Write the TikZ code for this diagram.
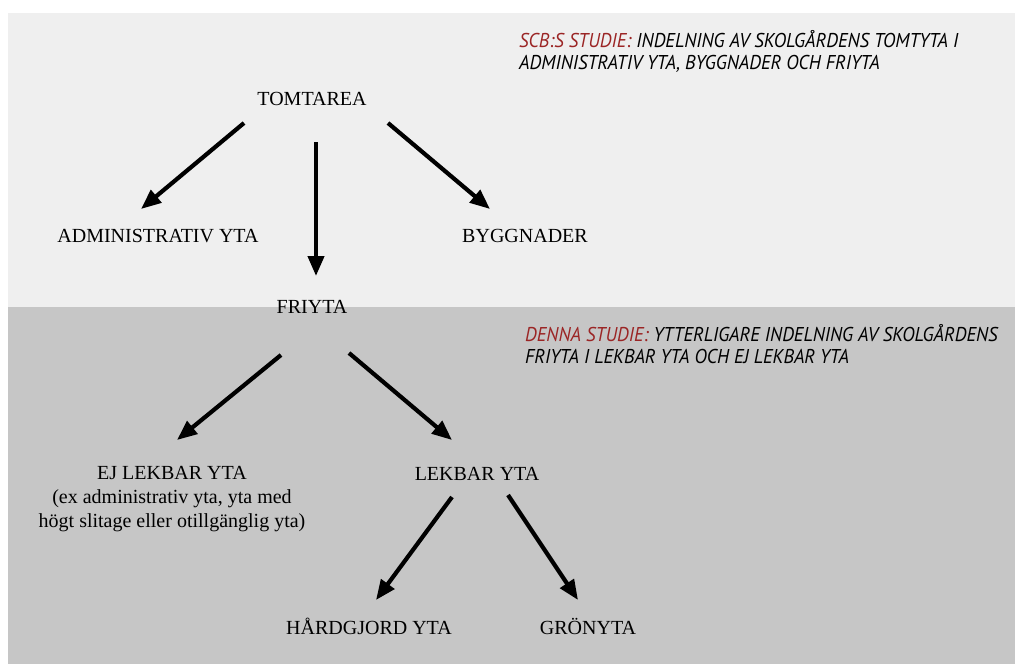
\documentclass[tikz,border=0pt]{standalone}
\usepackage{fontspec}
\setmainfont{Liberation Serif}
\newfontfamily\notefont[FakeStretch=0.94]{PT Sans}
\usetikzlibrary{arrows.meta}
\definecolor{bgtop}{HTML}{EFEFEF}
\definecolor{bgbot}{HTML}{C6C6C6}
\definecolor{notered}{HTML}{9B2525}
\begin{document}
\begin{tikzpicture}[x=1pt,y=-1pt,
  lbl/.style={font=\fontsize{20}{24}\selectfont, inner sep=0pt, anchor=base},
  note/.style={font=\notefont\itshape\fontsize{20}{22}\selectfont, inner sep=0pt, anchor=base west},
  arr/.style={line width=4.2pt, -{Triangle[length=20pt,width=16pt]}}]
\useasboundingbox (0,0) rectangle (1015,664);
\fill[bgtop] (8,13) rectangle (1015,307);
\fill[bgbot] (8,307) rectangle (1015,664);

\node[lbl] (tom) at (312,105) {TOMTAREA};
\node[lbl] (adm) at (158,242) {ADMINISTRATIV YTA};
\node[lbl] (byg) at (525,242) {BYGGNADER};
\node[lbl] (fri) at (312,313) {FRIYTA};
\node[lbl, anchor=north, align=center, font=\fontsize{20}{24}\selectfont] (ej) at (172,466) {EJ LEKBAR YTA\\(ex administrativ yta, yta med\\högt slitage eller otillgänglig yta)};
\node[lbl] (lek) at (477,480) {LEKBAR YTA};
\node[lbl] (hard) at (369,634) {HÅRDGJORD YTA};
\node[lbl] (gron) at (588,634) {GRÖNYTA};

\node[note] (n1a) at (519,47) {\textcolor{notered}{SCB:S STUDIE:} INDELNING AV SKOLGÅRDENS TOMTYTA I};
\node[note] (n1b) at (519,69) {ADMINISTRATIV YTA, BYGGNADER OCH FRIYTA};
\node[note] (n2a) at (525,341) {\textcolor{notered}{DENNA STUDIE:} YTTERLIGARE INDELNING AV SKOLGÅRDENS};
\node[note] (n2b) at (525,363) {FRIYTA I LEKBAR YTA OCH EJ LEKBAR YTA};

\draw[arr] ([shift={(-68,18)}]tom.base) -- ([shift={(-17,-33)}]adm.base);
\draw[arr] ([shift={(4,37)}]tom.base) -- ([shift={(4,-37)}]fri.base);
\draw[arr] ([shift={(76,18)}]tom.base) -- ([shift={(-35,-33)}]byg.base);
\draw[arr] ([shift={(-31,42)}]fri.base) -- ([shift={(5,-26)}]ej.north);
\draw[arr] ([shift={(37,40)}]fri.base) -- ([shift={(-25,-40)}]lek.base);
\draw[arr] ([shift={(-25,17)}]lek.base) -- ([shift={(7,-34)}]hard.base);
\draw[arr] ([shift={(31,15)}]lek.base) -- ([shift={(-10,-34)}]gron.base);
\end{tikzpicture}
\end{document}
